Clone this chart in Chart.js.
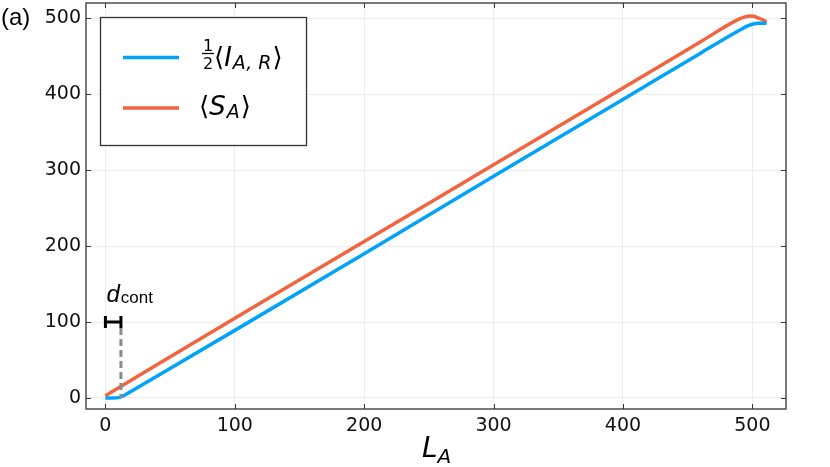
<!DOCTYPE html>
<html lang="en">
<head>
  <meta charset="UTF-8">
  <title>Mutual information vs entropy</title>
  <script src="https://cdn.jsdelivr.net/npm/chart.js"></script>
  <style>
    html, body { margin: 0; padding: 0; background: #fff; }
    #wrap { width: 830px; height: 467px; }
  </style>
</head>
<body>
  <div id="wrap"><canvas id="chart" width="830" height="467"></canvas></div>

  <script>
    // blue: 1/2 <I_{A,R}>
    const laI = [0, 6, 10, 12, 15, 20, 100, 200, 300, 400, 460, 490, 496, 500, 504, 511];
    const iAR = [0, 0, 0.5, 1.5, 4, 9, 89, 190, 292, 393, 454, 484, 489.5, 492, 493.5, 493.5];
    // orange: <S_A>
    const laS = [0, 100, 200, 300, 400, 460, 490, 495, 498, 501, 505, 508, 511];
    const sA  = [3, 105, 206, 307, 408, 469, 499, 502, 503, 502.5, 500, 498, 495];

    const xTicks = [0, 100, 200, 300, 400, 500];
    const yTicks = [0, 100, 200, 300, 400, 500];

    const dCont = 12;      // contact distance marker
    const dContY = 100;

    const BLUE = '#00A2FA';
    const ORANGE = '#F0653F';
    const FONT = '"DejaVu Sans", sans-serif';
    const ARIAL = '"Liberation Sans", Arial, sans-serif';

    function pts(xs, ys) {
      return xs.map((x, i) => ({ x: x, y: ys[i] }));
    }

    // draw a run of text pieces, each with its own size / style / offset
    function rich(ctx, x, y, parts) {
      parts.forEach(p => {
        ctx.font = (p.it ? 'italic ' : '') + p.size + 'px ' + (p.fam || FONT);
        ctx.fillText(p.t, x, y + (p.dy || 0));
        x += ctx.measureText(p.t).width + (p.gap || 0);
      });
      return x;
    }

    const extras = {
      id: 'extras',
      afterDatasetsDraw(chart) {
        const ctx = chart.ctx;
        const xs = chart.scales.x, ys = chart.scales.y;
        const x0 = xs.getPixelForValue(0), x1 = xs.getPixelForValue(dCont);
        const yb = ys.getPixelForValue(dContY), y0 = ys.getPixelForValue(0);
        ctx.save();
        // dashed drop line
        ctx.strokeStyle = '#8a8a8a';
        ctx.lineWidth = 3;
        ctx.setLineDash([7, 4]);
        ctx.beginPath();
        ctx.moveTo(x1, yb + 6);
        ctx.lineTo(x1, y0);
        ctx.stroke();
        ctx.setLineDash([]);
        // bracket
        ctx.strokeStyle = '#000';
        ctx.lineWidth = 3;
        ctx.beginPath();
        ctx.moveTo(x0, yb); ctx.lineTo(x1, yb);
        ctx.moveTo(x0, yb - 6); ctx.lineTo(x0, yb + 6);
        ctx.moveTo(x1, yb - 6); ctx.lineTo(x1, yb + 6);
        ctx.stroke();
        // label
        ctx.fillStyle = '#000';
        ctx.textBaseline = 'alphabetic';
        ctx.textAlign = 'left';
        rich(ctx, x0 + 1, yb - 20, [
          { t: 'd', it: true, size: 24, fam: ARIAL, gap: 1 },
          { t: 'cont', size: 17, dy: 1, fam: ARIAL }
        ]);
        ctx.restore();
      },
      afterDraw(chart) {
        const ctx = chart.ctx;
        const a = chart.chartArea;
        const xs = chart.scales.x, ys = chart.scales.y;
        ctx.save();
        // frame
        ctx.strokeStyle = '#333';
        ctx.lineWidth = 1.3;
        ctx.strokeRect(a.left, a.top, a.right - a.left, a.bottom - a.top);
        // inner tick marks on all sides
        ctx.lineWidth = 1;
        ctx.beginPath();
        xTicks.forEach(v => {
          const px = Math.round(xs.getPixelForValue(v)) + 0.5;
          ctx.moveTo(px, a.bottom); ctx.lineTo(px, a.bottom - 5);
          ctx.moveTo(px, a.top); ctx.lineTo(px, a.top + 5);
        });
        yTicks.forEach(v => {
          const py = Math.round(ys.getPixelForValue(v)) + 0.5;
          ctx.moveTo(a.left, py); ctx.lineTo(a.left + 5, py);
          ctx.moveTo(a.right, py); ctx.lineTo(a.right - 5, py);
        });
        ctx.stroke();

        // legend box
        ctx.fillStyle = '#fff';
        ctx.fillRect(100, 17, 207, 129);
        ctx.strokeStyle = '#333';
        ctx.lineWidth = 1.3;
        ctx.strokeRect(100.5, 17.5, 206, 128);
        ctx.lineWidth = 3.5;
        ctx.strokeStyle = BLUE;
        ctx.beginPath(); ctx.moveTo(123, 57.5); ctx.lineTo(179, 57.5); ctx.stroke();
        ctx.strokeStyle = ORANGE;
        ctx.beginPath(); ctx.moveTo(123, 108); ctx.lineTo(179, 108); ctx.stroke();

        ctx.fillStyle = '#000';
        ctx.textBaseline = 'alphabetic';
        // 1/2 fraction
        ctx.textAlign = 'center';
        ctx.font = '16px ' + FONT;
        ctx.fillText('1', 208, 51);
        ctx.fillText('2', 208, 68.5);
        ctx.strokeStyle = '#000';
        ctx.lineWidth = 1.3;
        ctx.beginPath(); ctx.moveTo(202, 53.5); ctx.lineTo(214, 53.5); ctx.stroke();
        ctx.textAlign = 'left';
        rich(ctx, 214, 66, [
          { t: '\u27E8', size: 26 },
          { t: 'I', it: true, size: 26, gap: 1 },
          { t: 'A, R', it: true, size: 19, dy: 3, gap: 1 },
          { t: '\u27E9', size: 26 }
        ]);
        rich(ctx, 199, 115, [
          { t: '\u27E8', size: 26 },
          { t: 'S', it: true, size: 26, gap: 1 },
          { t: 'A', it: true, size: 19, dy: 3, gap: 1 },
          { t: '\u27E9', size: 26 }
        ]);

        // axis title
        rich(ctx, 422, 457, [
          { t: 'L', it: true, size: 28 },
          { t: 'A', it: true, size: 20, dy: 6 }
        ]);

        // panel tag
        ctx.font = '24px ' + ARIAL;
        ctx.fillText('(a)', 1, 25);
        ctx.restore();
      }
    };

    new Chart(document.getElementById('chart'), {
      type: 'line',
      data: {
        datasets: [
          {
            label: '½⟨I_A,R⟩',
            data: pts(laI, iAR),
            borderColor: BLUE,
            borderWidth: 3.5,
            pointRadius: 0,
            cubicInterpolationMode: 'monotone',
            fill: false
          },
          {
            label: '⟨S_A⟩',
            data: pts(laS, sA),
            borderColor: ORANGE,
            borderWidth: 3.5,
            pointRadius: 0,
            cubicInterpolationMode: 'monotone',
            fill: false
          }
        ]
      },
      options: {
        responsive: false,
        animation: false,
        layout: { padding: { left: 0, top: 3, right: 44, bottom: 0 } },
        plugins: { legend: { display: false }, tooltip: { enabled: false } },
        scales: {
          x: {
            type: 'linear',
            min: -15,
            max: 526,
            afterBuildTicks: s => { s.ticks = xTicks.map(v => ({ value: v })); },
            afterFit: s => { s.height = 58; s.paddingLeft = 0; s.paddingRight = 0; },
            border: { display: false },
            grid: { color: '#ececec', lineWidth: 1, drawTicks: false },
            ticks: { color: '#111', font: { family: FONT, size: 19 }, padding: 6, maxRotation: 0 }
          },
          y: {
            type: 'linear',
            min: -14.5,
            max: 520,
            afterBuildTicks: s => { s.ticks = yTicks.map(v => ({ value: v })); },
            afterFit: s => { s.width = 86; s.paddingTop = 0; s.paddingBottom = 0; },
            border: { display: false },
            grid: { color: '#ececec', lineWidth: 1, drawTicks: false },
            ticks: { color: '#111', font: { family: FONT, size: 19 }, padding: 5 }
          }
        }
      },
      plugins: [extras]
    });
  </script>
</body>
</html>
